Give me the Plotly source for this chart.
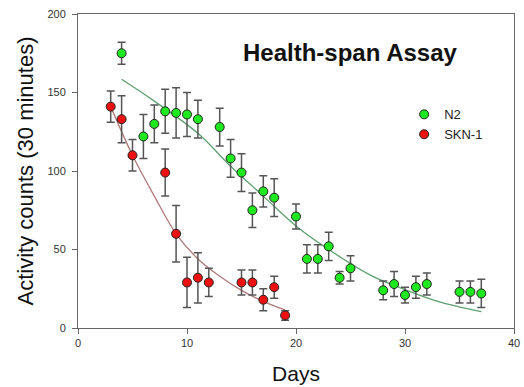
import plotly.graph_objects as go

# N2 data
n2_days = [4, 6, 7, 8, 9, 10, 11, 13, 14, 15, 16, 17, 18, 20, 21, 22, 23, 24, 25, 28, 29, 30, 31, 32, 35, 36, 37]
n2_vals = [175, 122, 130, 138, 137, 136, 133, 128, 108, 99, 75, 87, 83, 71, 44, 44, 52, 32, 38, 24, 28, 21, 26, 28, 23, 23, 22]
n2_err = [7, 14, 12, 14, 16, 14, 12, 12, 12, 12, 11, 10, 12, 8, 9, 9, 9, 4, 8, 6, 8, 5, 7, 7, 7, 7, 9]

# SKN-1 data
skn_days = [3, 4, 5, 8, 9, 10, 11, 12, 15, 16, 17, 18, 19]
skn_vals = [141, 133, 110, 99, 60, 29, 32, 29, 29, 29, 18, 26, 8]
skn_err = [10, 15, 10, 15, 18, 16, 16, 9, 8, 8, 7, 7, 3]

# fitted curves
n2_fit_days = [4, 7, 11, 14, 17, 20, 23, 27, 30, 33, 37]
n2_fit_vals = [158.4, 144.5, 124, 103, 84, 65, 50, 33, 24.5, 17, 10.4]
skn_fit_days = [3, 5, 7, 9, 11, 13, 15, 17, 19]
skn_fit_vals = [141, 110, 84, 60, 44, 33, 24, 17, 11.5]

font_fam = "Liberation Sans, Arial, sans-serif"

fig = go.Figure()
fig.add_trace(go.Scatter(x=n2_fit_days, y=n2_fit_vals, mode="lines", line=dict(color="#5f9f70", width=1.3, shape="spline"),
                         showlegend=False, hoverinfo="skip"))
fig.add_trace(go.Scatter(x=skn_fit_days, y=skn_fit_vals, mode="lines", line=dict(color="#b07a7a", width=1.3, shape="spline"),
                         showlegend=False, hoverinfo="skip"))
fig.add_trace(go.Scatter(x=n2_days, y=n2_vals, mode="markers", name="N2",
                         marker=dict(color="#1ee81e", size=9, line=dict(color="#222", width=1)),
                         error_y=dict(type="data", array=n2_err, color="#555", thickness=1.5, width=4)))
fig.add_trace(go.Scatter(x=skn_days, y=skn_vals, mode="markers", name="SKN-1",
                         marker=dict(color="#ee1010", size=9, line=dict(color="#222", width=1)),
                         error_y=dict(type="data", array=skn_err, color="#555", thickness=1.5, width=4)))

fig.update_layout(
    width=524, height=387,
    margin=dict(l=78, r=10, t=14, b=59, autoexpand=False),
    paper_bgcolor="white", plot_bgcolor="white",
    font=dict(family=font_fam, color="#333"),
    showlegend=True,
    legend=dict(x=0.748, y=0.728, xanchor="left", yanchor="top", bgcolor="rgba(0,0,0,0)",
                font=dict(size=13, color="#222"), tracegroupgap=0, itemsizing="trace"),
    annotations=[dict(text="<b>Health-span Assay</b>", x=0.625, y=0.876, xref="paper", yref="paper",
                      xanchor="center", yanchor="middle",
                      showarrow=False, font=dict(size=24, color="#111", family=font_fam))],
)
fig.update_xaxes(range=[0, 40], tickvals=[0, 10, 20, 30, 40], showgrid=False, zeroline=False,
                 showline=True, linecolor="#666", linewidth=1, mirror=True, automargin=False,
                 ticks="outside", ticklen=5, tickcolor="#666", tickfont=dict(size=11, color="#333"),
                 title=dict(text="Days", font=dict(size=21, color="#111"), standoff=18))
fig.update_yaxes(range=[0, 200], tickvals=[0, 50, 100, 150, 200], showgrid=False, zeroline=False,
                 showline=True, linecolor="#666", linewidth=1, mirror=True, automargin=False,
                 ticks="outside", ticklen=5, tickcolor="#666", tickfont=dict(size=11, color="#333"),
                 ticklabelstandoff=4,
                 title=dict(text="Activity counts (30 minutes)", font=dict(size=22, color="#111"), standoff=7))

fig.write_html("out.html", config={"displayModeBar": False},
               post_script="document.body.style.margin='0';document.body.style.padding='0';")
